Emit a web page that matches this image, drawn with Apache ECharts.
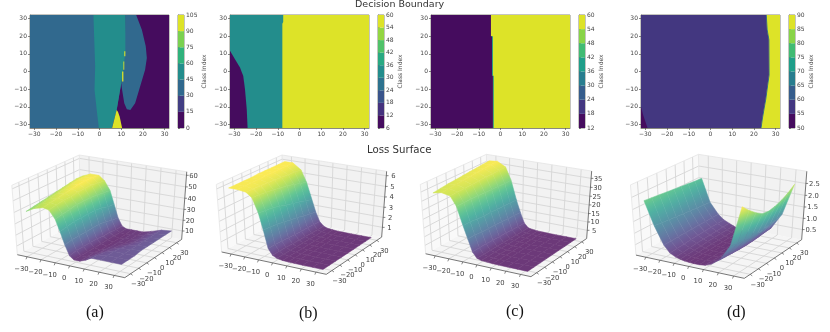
<!DOCTYPE html>
<html><head><meta charset="utf-8">
<style>html,body{margin:0;padding:0;background:#fff}#c{width:830px;height:332px;filter:blur(.35px)}</style>
<script src="https://cdn.jsdelivr.net/npm/echarts@6/dist/echarts.min.js"></script>
</head><body><div id="c"></div>
<script>
// ---------- decision boundary data (x,y in axis units, value = class index) ----------
const heatTicks=[-30,-20,-10,0,10,20,30];
const levelsA=[0,15,30,45,60,75,90,105];
const levelsB=[6,12,18,24,30,36,42,48,54,60];
const levelsC=[12,18,24,30,36,42,48,54,60];
const levelsD=[50,55,60,65,70,75,80,85,90];
const regionsA=[
 {v:37,p:[[-32,-32],[32,-32],[32,32],[-32,32]]},
 {v:7,p:[[16.9,32],[32,32],[32,-32],[5,-32],[7.9,-21.8],[10,-6.6],[11.9,12],[12,32]]},
 {v:37,p:[[11.9,32],[16.9,32],[19.5,23.7],[21.3,14.3],[21.8,7.6],[21,1],[18.7,-8.5],[16.4,-18],[14.2,-21.8],[12.6,-21.4],[11.4,-18],[10.4,-10.4],[10,-6.6],[10.5,0],[11.6,12.4]]},
 {v:52,p:[[-2.8,32],[11.9,32],[11.9,12],[11.6,8],[11,1],[10,-6.6],[7.9,-21.8],[5.8,-32],[-.3,-32],[-1.1,-23.7],[-2.3,-10.4],[-2,2.9]]},
 {v:100,p:[[7.9,-21.8],[8.5,-22.8],[9.3,-25.6],[10.4,-32],[5.8,-32]]},
 {v:100,p:[[11.4,11.4],[11.9,11.4],[11.9,8.6],[11.4,8.6]]},
 {v:100,p:[[11,5.7],[11.4,5.7],[11.4,1],[11,1]]},
 {v:100,p:[[10.4,0],[11,0],[11,-5.7],[10.4,-5.7]]}];
const regionsB=[
 {v:57,p:[[-32,-32],[32,-32],[32,32],[-32,32]]},
 {v:33,p:[[-32,32],[-7.5,32],[-7.5,28],[-7.9,27],[-7.9,-32],[-32,-32]]},
 {v:9,p:[[-32,11.7],[-29.7,7],[-27.4,2.3],[-25.9,-2.5],[-25.1,-10],[-24.3,-21.3],[-23.9,-32],[-32,-32]]}];
const regionsC=[
 {v:57,p:[[-32,-32],[32,-32],[32,32],[-32,32]]},
 {v:38,p:[[-4.2,20],[-3.5,20],[-3.5,-2.4],[-3.1,-2.4],[-3.1,-32],[-3.6,-32],[-3.6,-2.4],[-4.2,-2.4]]},
 {v:15,p:[[-32,32],[-4.4,32],[-4.4,20],[-3.9,20],[-3.9,-2.4],[-3.5,-2.4],[-3.5,-32],[-32,-32]]}];
const regionsD=[
 {v:87,p:[[-32,-32],[32,-32],[32,32],[-32,32]]},
 {v:68,p:[[25.9,32],[26.3,23.7],[27.1,18],[27.2,-2],[26.5,-8],[25.7,-15.5],[24.9,-21],[24.1,-26.8],[23.5,-32],[23.1,-32],[23.7,-26.8],[24.5,-21],[25.3,-15.5],[26.1,-8],[26.8,-2],[26.7,18],[25.9,23.7],[25.5,32]]},
 {v:57,p:[[-32,32],[25.6,32],[26,23.7],[26.8,18],[26.9,-2],[26.2,-8],[25.4,-15.5],[24.6,-21],[23.8,-26.8],[23.2,-32],[-32,-32]]},
 {v:52,p:[[-32,-20],[-31,-24.7],[-29,-32],[-32,-32]]}];

// ---------- loss surface data: rows follow surfY, columns follow surfX ----------
const surfX=[-32,-26,-20,-16,-12,-9,-6,-3,0,4,8,12,18,25,32];
const surfY=[-32,-24,-16,-8,0,8,16,24,32];
const surfA=[
 [40,44,46,45,38,28,17,8,5,5,7,10,10,10,10],
 [41,45,47,46,39,29,18,9,5,5,7,9,10,10,10],
 [42,46,48,47,40,30,18,9,5,5,6,8,10,10,10],
 [43,47,49,47,41,30,18,9,5,4,6,7,9,10,11],
 [44,48,50,48,41,30,18,9,5,4,5,6,8,10,11],
 [45,49,51,48,41,30,18,8,5,4,5,5,7,10,11],
 [46,50,51,48,40,29,17,8,5,4,5,5,7,10,11],
 [47,50,51,47,39,27,15,7,5,4,5,5,7,10,11],
 [47,50,50,46,38,26,14,7,5,5,5,5,7,10,11]];
const surfB=[
 [6,6,5.9,5.5,4.2,2.7,1,.4,.2,.1,.07,.06,.05,.05,.05],
 [6,6,5.9,5.45,4.1,2.6,1,.4,.2,.1,.07,.06,.05,.05,.05],
 [6,6,5.85,5.35,4,2.5,.95,.4,.2,.1,.07,.06,.05,.05,.05],
 [6,6,5.8,5.25,3.8,2.4,.9,.38,.18,.1,.07,.05,.05,.05,.05],
 [6.05,6.05,5.75,5.1,3.6,2.2,.85,.36,.18,.1,.06,.05,.05,.05,.05],
 [6.05,6.05,5.7,5,3.4,2.1,.8,.34,.16,.1,.06,.05,.05,.05,.05],
 [6.05,6.05,5.65,4.8,3.2,1.9,.78,.32,.16,.1,.06,.05,.05,.05,.05],
 [6.05,6.05,5.6,4.6,3,1.75,.74,.3,.15,.1,.06,.05,.05,.05,.05],
 [6.05,6.05,5.5,4.4,2.8,1.6,.7,.3,.15,.1,.06,.05,.05,.05,.05]];
const surfC=[
 [34,35,34,29,19,12,5,1.8,1,.8,.6,.5,.5,.5,.5],
 [34.5,35.3,34.2,29,19,12,5,1.8,1,.8,.6,.5,.5,.5,.5],
 [35,35.5,34.4,29,18.5,11.5,5,1.7,1,.8,.6,.5,.5,.5,.5],
 [35.3,36,34.5,28.8,18,11.3,4.8,1.7,1,.7,.6,.5,.5,.5,.5],
 [35.6,36.3,34.7,28.6,18,11,4.6,1.6,1,.7,.6,.5,.5,.5,.5],
 [36,36.7,34.8,28.4,17.7,10.8,4.5,1.6,1,.7,.6,.5,.5,.5,.5],
 [36.3,37,34.9,28.2,17.5,10.5,4.3,1.5,1,.7,.6,.5,.5,.5,.5],
 [36.7,37.3,35,28,17.2,10.2,4.1,1.5,1,.7,.6,.5,.5,.5,.5],
 [37,37.5,35,28,17,10,4,1.5,1,.7,.6,.5,.5,.5,.5]];
const surfD=[
 [2.33,1.35,.6,.3,.17,.12,.08,.06,.05,.05,.08,.18,.45,1.15,2.8],
 [2.3,1.32,.6,.32,.19,.13,.08,.06,.05,.05,.08,.17,.43,1.05,2.5],
 [2.27,1.28,.61,.34,.22,.15,.1,.07,.05,.05,.07,.15,.4,1,2.25],
 [2.24,1.25,.61,.36,.24,.16,.11,.07,.05,.05,.07,.14,.38,.95,2.05],
 [2.21,1.22,.61,.38,.26,.18,.12,.07,.05,.05,.07,.13,.37,.95,2],
 [2.18,1.19,.62,.39,.27,.19,.12,.07,.05,.05,.07,.13,.38,.98,2.05],
 [2.15,1.16,.62,.4,.28,.2,.13,.08,.05,.05,.07,.14,.4,1.03,2.15],
 [2.12,1.13,.62,.41,.29,.21,.13,.08,.06,.06,.08,.15,.43,1.08,2.3],
 [2.1,1.1,.62,.42,.3,.22,.14,.08,.06,.06,.08,.16,.45,1.15,2.5]];
const surfTintD=[.85,.88,.92,.95,1,1,1,1,1,1,1,1,1,1,1];
const axisTicks3D=[-30,-20,-10,0,10,20,30];
const zTicksA=['10','20','30','40','50','60'];
const zTicksB=['1','2','3','4','5','6'];
const zTicksC=['5','10','15','20','25','30','35'];
const zTicksD=['0.5','1.0','1.5','2.0','2.5'];

// ---------- layout ----------
const heatPanels=[
 {left:30,cb:178,regions:regionsA,levels:levelsA},
 {left:230,cb:378,regions:regionsB,levels:levelsB},
 {left:431,cb:579,regions:regionsC,levels:levelsC},
 {left:641,cb:789,regions:regionsD,levels:levelsD}];
const surfPanels=[
 {ox:0,L:[52,327],R:[545,285],B:[235,30],F:[375,398],z:surfA,ticks:zTicksA,lim:[2,63]},
 {ox:210,L:[35,320],R:[515,278],B:[200,30],F:[350,388],z:surfB,ticks:zTicksB,lim:[0,6.4]},
 {ox:420,L:[17,325],R:[500,283],B:[190,28],F:[335,395],z:surfC,ticks:zTicksC,lim:[0,39]},
 {ox:620,L:[48,325],R:[545,285],B:[232,28],F:[372,400],z:surfD,ticks:zTicksD,lim:[.04,3],tint:surfTintD}];
const BOX=37,DIST=8,ALPHA=.77;

const VIR=[[68,1,84],[72,40,120],[62,74,137],[49,104,142],[38,130,142],[31,158,137],[53,183,121],[110,206,88],[181,222,43],[253,231,37]];
function vir(t){t=Math.max(0,Math.min(1,t))*(VIR.length-1);const i=Math.min(VIR.length-2,Math.floor(t)),f=t-i;
 return VIR[i].map((c,k)=>c+(VIR[i+1][k]-c)*f);}
function css(c){return 'rgb('+c.map(Math.round).join(',')+')';}
function band(t){return css(vir(.03+.92*t));}
function soft(t){return css(vir(t).map(c=>c*ALPHA+244*(1-ALPHA)));}

// ---------- view: matplotlib's default elev 30, azim -60 ----------
const el=30*Math.PI/180,az=-60*Math.PI/180;
const W=[Math.cos(el)*Math.cos(az),Math.cos(el)*Math.sin(az),Math.sin(el)];
const Un=Math.hypot(W[0],W[1]);const U=[-W[1]/Un,W[0]/Un,0];
const V=[W[1]*U[2]-W[2]*U[1],W[2]*U[0]-W[0]*U[2],W[0]*U[1]-W[1]*U[0]];
function project(x,y,z,lim){
 const n=[x/(2*BOX),y/(2*BOX),(z-lim[0])/(lim[1]-lim[0])-.5];
 const dot=a=>a[0]*n[0]+a[1]*n[1]+a[2]*n[2];
 const s=1/(1-dot(W)/DIST);
 return [dot(U)*s,dot(V)*s];
}

const grids=[],xAxes=[],yAxes=[],series=[];
const fmt=v=>String(v).replace('-','\u2212');
const TXT='#444';
heatPanels.forEach(p=>{
 const g=grids.length;
 grids.push({left:p.left,top:15,width:139,height:113,show:true,borderColor:'#8a8a80',borderWidth:1,backgroundColor:'#fff'});
 const ax={type:'value',min:-32,max:32,splitLine:{show:false},
  axisLine:{show:true,onZero:false,lineStyle:{color:'#8a8a80'}},
  axisTick:{show:true,length:2,customValues:heatTicks,lineStyle:{color:'#555',width:.7}},
  axisLabel:{fontFamily:'DejaVu Sans',fontSize:6,color:TXT,margin:3,customValues:heatTicks,formatter:fmt}};
 xAxes.push(Object.assign({gridIndex:g},ax));yAxes.push(Object.assign({gridIndex:g},ax));
 const lo=p.levels[0],st=p.levels[1]-p.levels[0],n=p.levels.length-1;
 series.push({type:'custom',xAxisIndex:g,yAxisIndex:g,silent:true,animation:false,z:3,
  data:p.regions.map((r,i)=>[i]),
  renderItem:(par,api)=>{const r=p.regions[api.value(0)];
   return {type:'polygon',silent:true,shape:{points:r.p.map(q=>api.coord(q))},
    style:{fill:band(Math.floor((r.v-lo)/st)/(n-1)),stroke:null}};}});
 const c=grids.length;
 grids.push({left:p.cb,top:15,width:6,height:113,show:true,borderColor:'#8a8a80',borderWidth:1});
 xAxes.push({gridIndex:c,type:'value',min:0,max:1,show:false});
 yAxes.push({gridIndex:c,type:'value',position:'right',min:lo,max:p.levels[n],interval:st,splitLine:{show:false},
  axisLine:{show:true,lineStyle:{color:'#8a8a80'}},
  axisTick:{show:true,length:2,lineStyle:{color:'#555',width:.7}},
  axisLabel:{fontFamily:'DejaVu Sans',fontSize:6,color:TXT,margin:2},
  name:'Class Index',nameLocation:'middle',nameRotate:90,nameGap:11,
  nameTextStyle:{fontFamily:'DejaVu Sans',fontSize:6,color:TXT}});
 series.push({type:'custom',xAxisIndex:c,yAxisIndex:c,silent:true,animation:false,z:3,
  data:p.levels.slice(0,-1).map((v,i)=>[i,v,p.levels[i+1]]),
  renderItem:(par,api)=>{const a=api.coord([0,api.value(1)]),b=api.coord([1,api.value(2)]);
   return {type:'rect',silent:true,shape:{x:a[0],y:b[1],width:b[0]-a[0],height:a[1]-b[1]},
    style:{fill:band(api.value(0)/(n-1))}};}});
});

surfPanels.forEach(p=>{
 const g=grids.length,lim=p.lim;
 const P=(x,y,z)=>project(x,y,z,lim);
 const px=q=>[p.ox+q[0]/3,145+q[1]/3];
 const L=px(p.L),R=px(p.R),B=px(p.B),F=px(p.F);
 grids.push({left:L[0],top:B[1],width:R[0]-L[0],height:F[1]-B[1],show:false});
 xAxes.push({gridIndex:g,type:'value',show:false,min:P(-BOX,-BOX,lim[0])[0],max:P(BOX,BOX,lim[0])[0]});
 yAxes.push({gridIndex:g,type:'value',show:false,min:P(BOX,-BOX,lim[0])[1],max:P(-BOX,BOX,lim[1])[1]});
 const items=[];
 const z0=lim[0],z1=lim[1];
 const line=(a,b,color,w)=>items.push({k:'l',a,b,color,w});
 // panes
 items.push({k:'p',pts:[[-BOX,-BOX,z0],[BOX,-BOX,z0],[BOX,BOX,z0],[-BOX,BOX,z0]],fill:'#f5f5f5'});
 items.push({k:'p',pts:[[-BOX,-BOX,z0],[-BOX,BOX,z0],[-BOX,BOX,z1],[-BOX,-BOX,z1]],fill:'#f9f9f9'});
 items.push({k:'p',pts:[[-BOX,BOX,z0],[BOX,BOX,z0],[BOX,BOX,z1],[-BOX,BOX,z1]],fill:'#f2f2f2'});
 // grid lines
 axisTicks3D.forEach(t=>{
  line([t,-BOX,z0],[t,BOX,z0],'#d6d6d6',.9);line([t,BOX,z0],[t,BOX,z1],'#d6d6d6',.9);
  line([-BOX,t,z0],[BOX,t,z0],'#d6d6d6',.9);line([-BOX,t,z0],[-BOX,t,z1],'#d6d6d6',.9);
 });
 p.ticks.forEach(s=>{const t=+s;line([-BOX,-BOX,t],[-BOX,BOX,t],'#d6d6d6',.9);line([-BOX,BOX,t],[BOX,BOX,t],'#d6d6d6',.9);});
 // pane outline
 [[[-BOX,-BOX,z1],[-BOX,BOX,z1]],[[-BOX,BOX,z1],[BOX,BOX,z1]],[[-BOX,-BOX,z0],[-BOX,-BOX,z1]],[[-BOX,BOX,z0],[-BOX,BOX,z1]]]
  .forEach(s=>line(s[0],s[1],'#e4e4e4',.8));
 // surface, far to near
 const cols=p.z.map(r=>r.map((v,i)=>p.tint?v*p.tint[i]:v));
 let cc=[];cols.forEach(r=>cc=cc.concat(r));
 const cmin=Math.min(...cc),cmax=Math.max(...cc);
 for(let j=surfY.length-2;j>=0;j--)for(let i=0;i<surfX.length-1;i++){
  const ids=[[i,j],[i+1,j],[i+1,j+1],[i,j+1]];
  items.push({k:'q',pts:ids.map(d=>[surfX[d[0]],surfY[d[1]],p.z[d[1]][d[0]]]),
   ts:ids.map(d=>(cols[d[1]][d[0]]-cmin)/(cmax-cmin))});
 }
 // axis edges, ticks, labels
 line([-BOX,-BOX,z0],[BOX,-BOX,z0],'#555',.8);
 line([BOX,-BOX,z0],[BOX,BOX,z0],'#555',.8);
 line([BOX,BOX,z0],[BOX,BOX,z1],'#555',.8);
 axisTicks3D.forEach(t=>{
  items.push({k:'t',at:[t,-BOX,z0],dx:-1,dy:2.5,ox:-5.5,oy:12,text:fmt(t)});
  items.push({k:'t',at:[BOX,t,z0],dx:2,dy:1.5,ox:7.5,oy:10.5,text:fmt(t)});
 });
 p.ticks.forEach(s=>items.push({k:'t',at:[BOX,BOX,+s],dx:2.2,dy:0,ox:s.length>2?8.5:7,oy:.5,text:s}));
 series.push({type:'custom',xAxisIndex:g,yAxisIndex:g,silent:true,animation:false,z:3,clip:false,
  data:items.map((_,i)=>[i]),
  renderItem:(par,api)=>{
   const it=items[api.value(0)];
   const S=q=>api.coord(P(q[0],q[1],q[2]));
   if(it.k==='p')return {type:'polygon',silent:true,shape:{points:it.pts.map(S)},style:{fill:it.fill}};
   if(it.k==='l'){const a=S(it.a),b=S(it.b);
    return {type:'line',silent:true,shape:{x1:a[0],y1:a[1],x2:b[0],y2:b[1]},style:{stroke:it.color,lineWidth:it.w}};}
   if(it.k==='t'){const a=S(it.at);
    return {type:'group',silent:true,children:[
     {type:'line',silent:true,shape:{x1:a[0],y1:a[1],x2:a[0]+it.dx,y2:a[1]+it.dy},style:{stroke:'#555',lineWidth:.7}},
     {type:'text',silent:true,style:{text:it.text,x:a[0]+it.ox,y:a[1]+it.oy,align:'center',verticalAlign:'middle',
      fill:TXT,fontFamily:'DejaVu Sans',fontSize:6.8}}]};}
   const pts=it.pts.map(S);
   const mx=pts.reduce((s,q)=>s+q[0],0)/4,my=pts.reduce((s,q)=>s+q[1],0)/4,mt=it.ts.reduce((s,v)=>s+v,0)/4;
   let sxx=0,sxy=0,syy=0,sxt=0,syt=0;
   pts.forEach((q,i)=>{const dx=q[0]-mx,dy=q[1]-my,dt=it.ts[i]-mt;sxx+=dx*dx;sxy+=dx*dy;syy+=dy*dy;sxt+=dx*dt;syt+=dy*dt;});
   const det=sxx*syy-sxy*sxy;
   let fill=soft(mt);
   if(Math.abs(det)>1e-6){
    const a=(syy*sxt-sxy*syt)/det,b=(sxx*syt-sxy*sxt)/det,n2=a*a+b*b;
    const t0=Math.min(...it.ts),t1=Math.max(...it.ts);
    if(n2>1e-9&&t1-t0>1e-4){
     const stops=[0,.25,.5,.75,1].map(o=>({offset:o,color:soft(t0+(t1-t0)*o)}));
     fill={type:'linear',global:true,x:mx+a*(t0-mt)/n2,y:my+b*(t0-mt)/n2,x2:mx+a*(t1-mt)/n2,y2:my+b*(t1-mt)/n2,colorStops:stops};
    }
   }
   return {type:'polygon',silent:true,shape:{points:pts},style:{fill,stroke:fill,lineWidth:.5}};
  }});
});

const mkText=(text,x,y,font,size,color)=>({type:'text',left:x,top:y,silent:true,
 style:{text,fontFamily:font,fontSize:size,fill:color}});
const chart=echarts.init(document.getElementById('c'),null,{renderer:'canvas'});
chart.setOption({animation:false,backgroundColor:'#fff',
 title:[
  {text:'Decision Boundary',left:355,top:0,padding:0,textStyle:{fontFamily:'DejaVu Sans',fontSize:9.5,fontWeight:'normal',color:'#333'}},
  {text:'Loss Surface',left:367,top:145,padding:0,textStyle:{fontFamily:'DejaVu Sans',fontSize:10.2,fontWeight:'normal',color:'#333'}}],
 grid:grids,xAxis:xAxes,yAxis:yAxes,series,
 graphic:[
  mkText('(a)',86,305,'Liberation Serif',16,'#111'),
  mkText('(b)',299,306,'Liberation Serif',16,'#111'),
  mkText('(c)',506,304,'Liberation Serif',16,'#111'),
  mkText('(d)',727,305,'Liberation Serif',16,'#111')]});
</script></body></html>
